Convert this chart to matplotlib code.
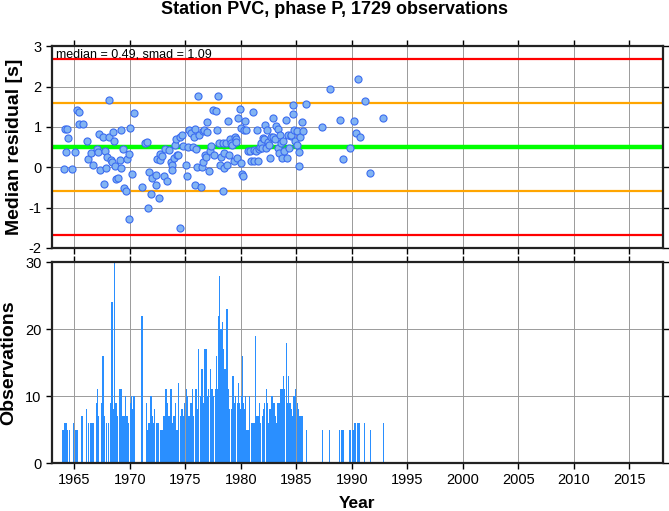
import matplotlib
matplotlib.use('Agg')
import matplotlib.pyplot as plt

plt.rcParams['font.family'] = ['Liberation Sans', 'DejaVu Sans']
plt.rcParams['axes.unicode_minus'] = False

# monthly median residuals (decimal year, seconds)
pt_year = [1964.04, 1964.16, 1964.34, 1964.25, 1964.43, 1964.79, 1965.03, 1965.24, 1965.39, 1965.45,
           1965.78, 1966.11, 1966.23, 1966.47, 1966.65, 1967.04, 1967.13, 1967.19, 1967.31, 1967.55,
           1967.64, 1967.73, 1967.85, 1967.91, 1968.09, 1968.15, 1968.27, 1968.39, 1968.48, 1968.57,
           1968.66, 1968.78, 1968.96, 1969.08, 1969.17, 1969.23, 1969.35, 1969.50, 1969.65, 1969.74,
           1969.92, 1969.98, 1970.07, 1970.22, 1970.38, 1971.13, 1971.40, 1971.58, 1971.67, 1971.76,
           1971.88, 1972.00, 1972.33, 1972.39, 1972.42, 1972.63, 1972.72, 1972.75, 1972.87, 1973.05,
           1973.20, 1973.32, 1973.56, 1973.68, 1973.77, 1973.83, 1973.95, 1974.04, 1974.16, 1974.22,
           1974.31, 1974.49, 1974.55, 1974.73, 1974.82, 1975.06, 1975.12, 1975.24, 1975.33, 1975.54,
           1975.66, 1975.75, 1975.84, 1975.90, 1975.99, 1976.08, 1976.17, 1976.23, 1976.38, 1976.47,
           1976.56, 1976.62, 1976.71, 1976.77, 1976.86, 1976.95, 1976.98, 1977.10, 1977.22, 1977.28,
           1977.52, 1977.61, 1977.73, 1977.82, 1977.94, 1978.03, 1978.12, 1978.21, 1978.36, 1978.38,
           1978.45, 1978.51, 1978.63, 1978.75, 1978.84, 1978.90, 1979.02, 1979.08, 1979.23, 1979.35,
           1979.44, 1979.53, 1979.59, 1979.68, 1979.77, 1979.89, 1979.98, 1980.01, 1980.13, 1980.22,
           1980.31, 1980.40, 1980.49, 1980.61, 1980.79, 1980.95, 1981.13, 1981.16, 1981.22, 1981.37,
           1981.43, 1981.52, 1981.61, 1981.70, 1981.82, 1981.94, 1982.00, 1982.09, 1982.18, 1982.27,
           1982.36, 1982.42, 1982.54, 1982.66, 1982.72, 1982.90, 1982.93, 1983.08, 1983.20, 1983.32,
           1983.38, 1983.44, 1983.56, 1983.62, 1983.68, 1983.83, 1983.92, 1984.04, 1984.13, 1984.25,
           1984.37, 1984.50, 1984.56, 1984.67, 1984.73, 1984.82, 1984.91, 1985.03, 1985.09, 1985.21,
           1985.27, 1985.33, 1985.48, 1985.57, 1985.90, 1987.34, 1988.00, 1988.90, 1989.20, 1989.86,
           1990.16, 1990.34, 1990.56, 1990.71, 1991.17, 1991.68, 1992.84]
pt_resid = [-0.04, 0.94, 0.94, 0.37, 0.73, -0.04, 0.38, 1.42, 1.37, 1.08,
            1.07, 0.66, 0.21, 0.35, 0.05, 0.45, 0.38, 0.83, -0.07, 0.74,
            -0.41, 0.41, -0.01, 0.26, 1.67, 0.74, 0.18, 0.13, 0.88, 0.66,
            0.04, -0.30, -0.27, 0.17, -0.03, 0.93, 0.45, -0.52, -0.59, 0.21,
            -1.28, 0.32, 0.98, -0.17, 1.34, -0.48, 0.61, 0.63, -1.02, -0.12,
            -0.66, -0.26, -0.45, -0.18, 0.20, -0.75, 0.32, 0.18, 0.27, -0.22,
            0.45, -0.34, 0.42, 0.12, 0.05, -0.07, 0.23, 0.55, 0.69, 0.31,
            0.30, -1.50, 0.76, 0.79, 0.52, 0.05, -0.21, 0.49, 0.93, 0.86,
            0.51, 0.75, -0.43, 0.95, 0.46, 0.01, 1.76, 0.80, -0.48, 0.01,
            0.90, 0.12, 0.92, 0.30, 0.25, 1.12, 0.87, -0.09, 0.40, 0.52,
            1.42, 0.31, 1.39, 0.93, 1.77, 0.60, 0.06, 0.26, -0.60, 0.60,
            -0.03, 0.35, 0.60, 0.06, 1.15, 0.31, 0.69, 0.60, 0.55, 0.15,
            0.75, 0.69, 0.62, 0.22, 1.22, 1.45, 0.11, 0.98, -0.17, -0.22,
            0.93, 1.14, 0.93, 0.40, 0.40, 0.16, 1.36, 0.43, 0.16, 0.41,
            0.92, 0.16, 0.46, 0.50, 0.60, 0.48, 0.73, 0.69, 1.05, 0.47,
            0.93, 0.63, 0.56, 0.23, 0.74, 1.22, 0.76, 0.70, 1.02, 0.47,
            0.95, 0.36, 0.81, 0.60, 0.23, 0.66, 0.40, 1.17, 0.23, 0.81,
            0.47, 0.78, 0.79, 1.31, 1.54, 0.93, 0.64, 0.55, 0.90, 0.03,
            0.37, 0.75, 1.12, 0.90, 1.57, 1.00, 1.94, 1.18, 0.21, 0.47,
            1.15, 0.85, 2.18, 0.75, 1.64, -0.14, 1.21]

# observations per bin
bar_year = [1964.00, 1964.15, 1964.25, 1964.35, 1964.60, 1964.95, 1965.15, 1965.30, 1965.70, 1966.10,
            1966.30, 1966.50, 1966.70, 1967.00, 1967.10, 1967.20, 1967.50, 1967.60, 1967.75, 1967.90,
            1968.10, 1968.25, 1968.40, 1968.55, 1968.65, 1968.75, 1968.90, 1969.10, 1969.20, 1969.35,
            1969.50, 1969.60, 1969.75, 1969.85, 1970.05, 1970.15, 1970.30, 1970.40, 1971.10, 1971.50,
            1971.65, 1971.75, 1971.90, 1972.00, 1972.10, 1972.25, 1972.40, 1972.50, 1972.60, 1972.80,
            1972.95, 1973.10, 1973.25, 1973.40, 1973.55, 1973.70, 1973.85, 1974.00, 1974.10, 1974.25,
            1974.40, 1974.55, 1974.70, 1974.80, 1974.95, 1975.10, 1975.20, 1975.35, 1975.50, 1975.65,
            1975.75, 1975.90, 1976.00, 1976.10, 1976.20, 1976.35, 1976.50, 1976.60, 1976.75, 1976.85,
            1977.00, 1977.10, 1977.25, 1977.40, 1977.55, 1977.70, 1977.80, 1977.90, 1978.00, 1978.10,
            1978.20, 1978.35, 1978.45, 1978.55, 1978.60, 1978.75, 1978.85, 1979.00, 1979.15, 1979.30,
            1979.45, 1979.55, 1979.70, 1979.80, 1979.90, 1980.00, 1980.10, 1980.15, 1980.25, 1980.35,
            1980.45, 1980.55, 1980.65, 1980.80, 1981.00, 1981.10, 1981.20, 1981.35, 1981.45, 1981.55,
            1981.70, 1981.80, 1981.95, 1982.05, 1982.15, 1982.30, 1982.40, 1982.55, 1982.65, 1982.75,
            1982.85, 1983.00, 1983.10, 1983.20, 1983.35, 1983.45, 1983.60, 1983.70, 1983.85, 1983.95,
            1984.10, 1984.20, 1984.30, 1984.45, 1984.55, 1984.65, 1984.80, 1984.95, 1985.10, 1985.20,
            1985.35, 1985.45, 1985.55, 1985.90, 1987.35, 1988.00, 1988.90, 1989.05, 1989.20, 1989.85,
            1990.05, 1990.15, 1990.30, 1990.50, 1990.60, 1990.70, 1991.15, 1991.70, 1992.85]
bar_count = [5, 6, 6, 5, 5, 6, 5, 5, 7, 8,
             6, 6, 6, 9, 11, 7, 9, 16, 7, 6,
             6, 9, 24, 8, 30, 9, 7, 11, 11, 7,
             7, 10, 7, 6, 9, 10, 8, 10, 22, 9,
             5, 6, 10, 7, 6, 8, 6, 6, 6, 5,
             5, 7, 11, 9, 7, 11, 6, 7, 9, 5,
             12, 7, 8, 7, 9, 11, 10, 7, 9, 11,
             7, 11, 11, 8, 17, 10, 14, 9, 17, 17,
             10, 11, 14, 11, 10, 11, 16, 11, 22, 28,
             20, 21, 17, 14, 14, 23, 11, 8, 8, 13,
             9, 10, 9, 12, 9, 8, 10, 16, 9, 8,
             10, 5, 5, 10, 6, 5, 6, 19, 7, 7,
             9, 6, 7, 8, 9, 11, 9, 6, 8, 10,
             10, 9, 7, 6, 9, 9, 11, 11, 13, 11,
             18, 9, 13, 9, 8, 7, 10, 11, 9, 8,
             7, 7, 7, 5, 5, 5, 5, 5, 5, 5,
             5, 5, 6, 6, 6, 6, 6, 5, 6]

median = 0.49
smad = 1.09

fig = plt.figure(figsize=(6.69, 5.11), dpi=100)
ax1 = fig.add_axes([0.0777, 0.5147, 0.913, 0.395])
ax2 = fig.add_axes([0.0777, 0.0939, 0.913, 0.393])

for ax in (ax1, ax2):
    ax.set_xlim(1963, 2018)
    ax.set_xticks(range(1965, 2016, 5))
    ax.grid(True, color='#9a9a9a', linewidth=0.7)
    ax.set_axisbelow(True)
    ax.tick_params(direction='out', length=4, width=1, top=True, right=True, labelsize=10.5)
    for s in ax.spines.values():
        s.set_linewidth(1.6)
        s.set_color('#222222')

# top panel: residuals
ax1.set_ylim(-2, 3)
ax1.set_yticks([-2, -1, 0, 1, 2, 3])
ax1.tick_params(labelbottom=False)
ax1.axhline(median + 2 * smad, color='#ff0000', lw=1.6, zorder=2)
ax1.axhline(median - 2 * smad, color='#ff0000', lw=1.6, zorder=2)
ax1.axhline(median + smad, color='#ffa500', lw=1.6, zorder=2)
ax1.axhline(median - smad, color='#ffa500', lw=1.6, zorder=2)
ax1.axhline(median, color='#00ff00', lw=3.2, zorder=2)
ax1.scatter(pt_year, pt_resid, s=26, facecolor='#82b4f2', edgecolor='#3b6cf0',
            linewidth=0.8, zorder=3)
ax1.text(0.006, 0.99, f'median = {median:.2f}, smad = {smad:.2f}', transform=ax1.transAxes,
         ha='left', va='top', fontsize=9)
ax1.set_ylabel('Median residual [s]', fontsize=14, fontweight='bold', labelpad=4)

# bottom panel: observation counts
ax2.bar(bar_year, bar_count, width=0.13, color='#2a8fff', linewidth=0, zorder=2)
ax2.set_ylim(0, 30)
ax2.set_yticks([0, 10, 20, 30])
ax2.set_ylabel('Observations', fontsize=14, fontweight='bold', labelpad=6)
ax2.set_xlabel('Year', fontsize=12.5, fontweight='bold', labelpad=6)

fig.suptitle('Station PVC, phase P, 1729 observations', fontsize=13, fontweight='bold', y=0.998)

fig.savefig('out.png', dpi=100)
